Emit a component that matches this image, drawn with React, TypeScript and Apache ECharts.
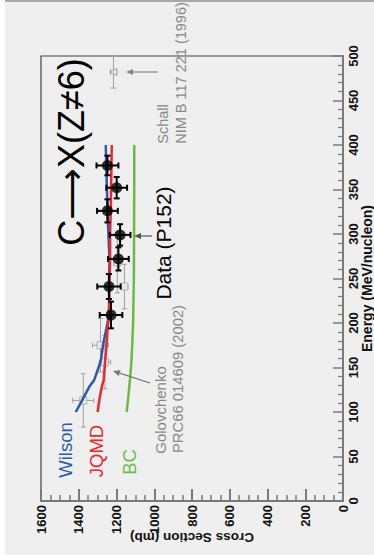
import React, { useEffect, useRef } from "react";
import * as echarts from "echarts";

// P152 measurement: energy (MeV/nucleon), cross section (mb) and their errors
const dataEnergy = [209, 241, 272, 299, 326, 352, 377];
const dataSigma = [1229, 1240, 1190, 1181, 1248, 1199, 1248];
const dataSigmaErr = [60, 62, 55, 55, 55, 55, 58];
const dataEnergyErr = [15, 14, 13, 12, 13, 12, 11];

// Golovchenko, PRC66 014609 (2002)
const golEnergy = [113, 156, 175, 241, 268];
const golSigma = [1376, 1261, 1285, 1158, 1196];
const golSigmaErr = [56, 30, 42, 18, 18];
const golEnergyErr = [30, 30, 30, 25, 34];

// Schall, NIM B 117 221 (1996)
const schallEnergy = [482];
const schallSigma = [1216];
const schallSigmaErr = [16];
const schallEnergyErr = [18];

// Model curves
const wilsonEnergy = [100, 110, 128, 136, 150, 158, 177, 192, 203, 220, 240, 271, 300, 330, 360, 400];
const wilsonSigma = [1416, 1390, 1345, 1318, 1295, 1283, 1270, 1255, 1245, 1238, 1240, 1237, 1243, 1248, 1252, 1257];
const jqmdEnergy = [100, 115, 128, 136, 158, 177, 195, 206, 240, 271, 300, 330, 360, 400];
const jqmdSigma = [1300, 1290, 1278, 1268, 1260, 1252, 1247, 1240, 1238, 1234, 1234, 1230, 1228, 1225];
const bcEnergy = [100, 120, 140, 160, 200, 250, 300, 350, 400];
const bcSigma = [1146, 1136, 1127, 1120, 1112, 1108, 1107, 1106, 1106];

// Axis ranges
const sigmaMax = 1600;
const sigmaStep = 200;
const energyMax = 500;
const energyStep = 50;

const FONT = '"Liberation Sans", Arial, "DejaVu Sans", sans-serif';
const NARROW = '"Liberation Sans Narrow", "Arial Narrow", "Liberation Sans", Arial, sans-serif';

const pairs = (xs: number[], ys: number[]) => xs.map((x, i) => [ys[i], x]);
const withErr = (e: number[], s: number[], se: number[], ee: number[]) =>
  e.map((v, i) => [s[i], v, se[i], ee[i]]);

function errorBars(color: string, width: number, cap: number) {
  return (params: any, api: any) => {
    const s = api.value(0);
    const e = api.value(1);
    const ds = api.value(2);
    const de = api.value(3);
    const l = api.coord([s - ds, e]);
    const r = api.coord([s + ds, e]);
    const b = api.coord([s, e - de]);
    const t = api.coord([s, e + de]);
    const style = { stroke: color, lineWidth: width };
    const seg = (x1: number, y1: number, x2: number, y2: number) => ({
      type: "line",
      shape: { x1, y1, x2, y2 },
      style,
    });
    return {
      type: "group",
      children: [
        seg(l[0], l[1], r[0], r[1]),
        seg(b[0], b[1], t[0], t[1]),
        seg(l[0], l[1] - cap, l[0], l[1] + cap),
        seg(r[0], r[1] - cap, r[0], r[1] + cap),
        seg(b[0] - cap, b[1], b[0] + cap, b[1]),
        seg(t[0] - cap, t[1], t[0] + cap, t[1]),
      ],
    };
  };
}

function label(text: string, x: number, y: number, size: number, color: string, rich?: any) {
  return {
    type: "text",
    x,
    y,
    rotation: Math.PI / 2,
    z: 50,
    style: {
      text,
      fill: color,
      fontSize: size,
      fontFamily: FONT,
      align: "center",
      verticalAlign: "middle",
      rich,
    },
  };
}

function arrow(x1: number, y1: number, x2: number, y2: number, color: string) {
  const dx = x1 - x2;
  const dy = y1 - y2;
  const len = Math.hypot(dx, dy);
  const ux = dx / len;
  const uy = dy / len;
  const bx = x2 + ux * 7;
  const by = y2 + uy * 7;
  return [
    {
      type: "line",
      z: 50,
      shape: { x1, y1, x2: bx, y2: by },
      style: { stroke: color, lineWidth: 1.2 },
    },
    {
      type: "polygon",
      z: 50,
      shape: {
        points: [
          [x2, y2],
          [bx - uy * 3, by + ux * 3],
          [bx + uy * 3, by - ux * 3],
        ],
      },
      style: { fill: color },
    },
  ];
}

const plain = (v: number) => String(v);

export default function App() {
  const ref = useRef<HTMLDivElement>(null);

  useEffect(() => {
    if (!ref.current) return;
    const chart = echarts.init(ref.current, undefined, { renderer: "svg" });
    const axisLine = { show: true, lineStyle: { color: "#7a7a7a", width: 2 } };
    chart.setOption({
      animation: false,
      backgroundColor: "transparent",
      grid: {
        left: 41,
        right: 31,
        top: 56,
        bottom: 57,
        outerBoundsMode: "none",
        containLabel: false,
        show: true,
        borderColor: "#444",
        borderWidth: 1.2,
        backgroundColor: "transparent",
      },
      xAxis: {
        type: "value",
        inverse: true,
        min: 0,
        max: sigmaMax,
        interval: sigmaStep,
        position: "bottom",
        name: "Cross Section (mb)",
        nameLocation: "middle",
        nameRotate: 180,
        nameGap: 29,
        nameMoveOverlap: false,
        nameTextStyle: { fontFamily: FONT, fontWeight: "bold", fontSize: 13.5, color: "#111" },
        axisLine,
        axisTick: { inside: true, length: 12, lineStyle: { color: "#7a7a7a", width: 2 } },
        minorTick: { show: true, splitNumber: 4, length: 6, lineStyle: { color: "#7a7a7a", width: 1.5 } },
        splitLine: { show: false },
        axisLabel: {
          rotate: 90,
          margin: 4,
          formatter: plain,
          fontFamily: NARROW,
          fontWeight: "bold",
          fontSize: 13,
          color: "#111",
        },
      },
      yAxis: {
        type: "value",
        min: 0,
        max: energyMax,
        interval: energyStep,
        position: "right",
        name: "Energy (MeV/nucleon)",
        nameLocation: "middle",
        nameRotate: 90,
        nameGap: 17,
        nameMoveOverlap: false,
        nameTextStyle: { fontFamily: FONT, fontWeight: "bold", fontSize: 14, color: "#111" },
        axisLine,
        axisTick: { inside: true, length: 10, lineStyle: { color: "#7a7a7a", width: 1.5 } },
        minorTick: { show: true, splitNumber: 5, length: 5, lineStyle: { color: "#7a7a7a", width: 1.2 } },
        splitLine: { show: false },
        axisLabel: {
          rotate: 90,
          margin: 4,
          formatter: plain,
          fontFamily: NARROW,
          fontWeight: "bold",
          fontSize: 13,
          color: "#111",
        },
      },
      series: [
        {
          name: "BC",
          type: "line",
          data: pairs(bcEnergy, bcSigma),
          showSymbol: false,
          lineStyle: { color: "#6dbb45", width: 2.5 },
          z: 3,
        },
        {
          name: "Golovchenko err",
          type: "custom",
          data: withErr(golEnergy, golSigma, golSigmaErr, golEnergyErr),
          renderItem: errorBars("#a0a0a0", 1, 2.5),
          encode: { x: 0, y: 1 },
          z: 4,
        },
        {
          name: "Golovchenko",
          type: "scatter",
          data: pairs(golEnergy, golSigma),
          symbol: "rect",
          symbolSize: 7,
          itemStyle: { color: "#eeefee", borderColor: "#a0a0a0", borderWidth: 1 },
          z: 5,
        },
        {
          name: "Schall err",
          type: "custom",
          data: withErr(schallEnergy, schallSigma, schallSigmaErr, schallEnergyErr),
          renderItem: errorBars("#a0a0a0", 1, 3),
          encode: { x: 0, y: 1 },
          z: 4,
        },
        {
          name: "Schall",
          type: "scatter",
          data: pairs(schallEnergy, schallSigma),
          symbol: "triangle",
          symbolRotate: 90,
          symbolSize: 7,
          itemStyle: { color: "#eeefee", borderColor: "#909090", borderWidth: 1 },
          z: 5,
        },
        {
          name: "Wilson",
          type: "line",
          data: pairs(wilsonEnergy, wilsonSigma),
          showSymbol: false,
          lineStyle: { color: "#2b5aa8", width: 2.5 },
          z: 6,
        },
        {
          name: "JQMD",
          type: "line",
          data: pairs(jqmdEnergy, jqmdSigma),
          showSymbol: false,
          lineStyle: { color: "#ee2430", width: 2.5 },
          z: 7,
        },
        {
          name: "Data err",
          type: "custom",
          data: withErr(dataEnergy, dataSigma, dataSigmaErr, dataEnergyErr),
          renderItem: errorBars("#000", 2, 3),
          encode: { x: 0, y: 1 },
          z: 8,
        },
        {
          name: "Data",
          type: "scatter",
          data: pairs(dataEnergy, dataSigma),
          symbol: "circle",
          symbolSize: 11,
          itemStyle: { color: "#000" },
          z: 9,
        },
      ],
      graphic: [
        label("C{a|\u27F6}X(Z\u22606)", 71, 152, 36, "#000", {
          a: { fontFamily: '"DejaVu Sans", sans-serif', fontSize: 36, fill: "#000" },
        }),
        label("Data (P152)", 163, 243, 21, "#000"),
        label("Schall", 163, 124, 14.5, "#888"),
        label("NIM B 117 221 (1996)", 181, 73, 14.5, "#888"),
        label("Golovchenko", 160, 410, 15, "#888"),
        label("PRC66 014609 (2002)", 178, 379, 14.8, "#888"),
        label("Wilson", 65, 450, 18.5, "#2b5aa8"),
        label("JQMD", 96, 451, 18.5, "#ee2430"),
        label("BC", 129, 462, 18.5, "#6dbb45"),
        ...arrow(152, 236, 134, 236, "#555"),
        ...arrow(150, 383, 113, 371, "#777"),
        ...arrow(158, 72, 126, 72, "#888"),
      ],
    });
    return () => chart.dispose();
  }, []);

  return (
    <div style={{ position: "fixed", left: 0, top: 0, width: 374, height: 558, background: "#fff" }}>
      <div
        style={{
          position: "absolute",
          left: 5,
          top: 0,
          width: 369,
          height: 553,
          background: "#eeefee",
          borderTop: "2px solid #a9a9a9",
        }}
      />
      <div ref={ref} style={{ position: "absolute", left: 0, top: 0, width: 374, height: 558 }} />
    </div>
  );
}
